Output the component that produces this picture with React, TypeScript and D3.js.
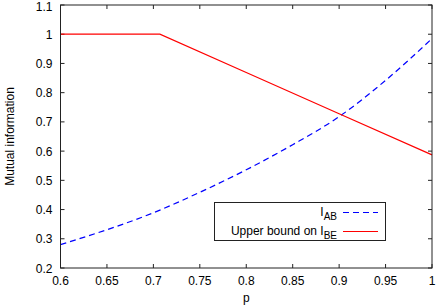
import React, { useEffect, useRef } from 'react';
import * as d3 from 'd3';

// I_AB (blue dashed)
const pAB = [0.6, 0.65, 0.7, 0.75, 0.8, 0.85, 0.9, 0.95, 1.0];
const iAB = [0.28, 0.331, 0.389, 0.459, 0.536, 0.622, 0.718, 0.842, 0.985];

// upper bound on I_BE (red solid)
const pBE = [0.6, 0.707, 0.8, 0.9, 1.0];
const iBE = [1.0, 1.0, 0.869, 0.728, 0.587];

const xTicks = [0.6, 0.65, 0.7, 0.75, 0.8, 0.85, 0.9, 0.95, 1];
const yTicks = [0.2, 0.3, 0.4, 0.5, 0.6, 0.7, 0.8, 0.9, 1, 1.1];

export default function App() {
  const svgRef = useRef<SVGSVGElement>(null);

  useEffect(() => {
    const width = 436;
    const height = 308;
    const margin = { top: 5, right: 4, bottom: 40, left: 60.5 };
    const font = '"Liberation Sans", Arial, Helvetica, sans-serif';

    const svg = d3.select(svgRef.current);
    svg.selectAll('*').remove();
    svg.attr('width', width).attr('height', height);

    const x = d3.scaleLinear().domain([0.6, 1]).range([margin.left, width - margin.right]);
    const y = d3.scaleLinear().domain([0.2, 1.1]).range([height - margin.bottom, margin.top]);

    const x0 = x(0.6), x1 = x(1), y0 = y(0.2), y1 = y(1.1);
    const tick = 4;

    // ticks, inward on all four sides
    const g = svg.append('g').attr('stroke', '#222').attr('stroke-width', 1);
    xTicks.forEach(t => {
      g.append('line').attr('x1', x(t)).attr('x2', x(t)).attr('y1', y0).attr('y2', y0 - tick);
      g.append('line').attr('x1', x(t)).attr('x2', x(t)).attr('y1', y1).attr('y2', y1 + tick);
    });
    yTicks.forEach(t => {
      g.append('line').attr('x1', x0).attr('x2', x0 + tick).attr('y1', y(t)).attr('y2', y(t));
      g.append('line').attr('x1', x1).attr('x2', x1 - tick).attr('y1', y(t)).attr('y2', y(t));
    });

    svg.selectAll('text.xt')
      .data(xTicks)
      .enter()
      .append('text')
      .attr('class', 'xt')
      .attr('x', d => x(d))
      .attr('y', y0 + 17)
      .attr('text-anchor', 'middle')
      .attr('font-family', font)
      .attr('font-size', '12px')
      .text(d => String(d));

    svg.selectAll('text.yt')
      .data(yTicks)
      .enter()
      .append('text')
      .attr('class', 'yt')
      .attr('x', x0 - 8)
      .attr('y', d => Math.max(y(d), 6))
      .attr('dy', '0.38em')
      .attr('text-anchor', 'end')
      .attr('font-family', font)
      .attr('font-size', '12px')
      .text(d => String(d));

    // axis titles
    svg.append('text')
      .attr('x', (x0 + x1) / 2)
      .attr('y', 302)
      .attr('text-anchor', 'middle')
      .attr('font-family', font)
      .attr('font-size', '12px')
      .text('p');

    svg.append('text')
      .attr('transform', `translate(14,${(y0 + y1) / 2}) rotate(-90)`)
      .attr('text-anchor', 'middle')
      .attr('font-family', font)
      .attr('font-size', '12px')
      .text('Mutual information');

    // curves
    const lineAB = d3.line<number>()
      .x((_, i) => x(pAB[i]))
      .y(d => y(d))
      .curve(d3.curveMonotoneX);
    const lineBE = d3.line<number>()
      .x((_, i) => x(pBE[i]))
      .y(d => y(d));

    svg.append('path')
      .attr('d', lineAB(iAB))
      .attr('fill', 'none')
      .attr('stroke', '#0000ff')
      .attr('stroke-width', 1.2)
      .attr('stroke-dasharray', '6,4');

    svg.append('path')
      .attr('d', lineBE(iBE))
      .attr('fill', 'none')
      .attr('stroke', '#ff0000')
      .attr('stroke-width', 1.2);

    // frame
    svg.append('rect')
      .attr('x', x0).attr('y', y1)
      .attr('width', x1 - x0).attr('height', y0 - y1)
      .attr('fill', 'none')
      .attr('stroke', '#222')
      .attr('stroke-width', 1);

    // legend
    const lg = svg.append('g');
    lg.append('rect')
      .attr('x', 214.5).attr('y', 202.5)
      .attr('width', 171).attr('height', 38)
      .attr('fill', 'white')
      .attr('stroke', '#222')
      .attr('stroke-width', 1);

    const entries = [
      { main: 'I', sub: 'AB', color: '#0000ff', dash: '6,4', yy: 212.5 },
      { main: 'Upper bound on I', sub: 'BE', color: '#ff0000', dash: null, yy: 231.5 },
    ];
    entries.forEach(e => {
      const t = lg.append('text')
        .attr('x', 337)
        .attr('y', e.yy + 3)
        .attr('text-anchor', 'end')
        .attr('font-family', font)
        .attr('font-size', '12px');
      t.append('tspan').text(e.main);
      t.append('tspan').attr('dy', 4).attr('font-size', '10px').text(e.sub);
      lg.append('line')
        .attr('x1', 343).attr('x2', 378)
        .attr('y1', e.yy).attr('y2', e.yy)
        .attr('stroke', e.color)
        .attr('stroke-width', 1.2)
        .attr('stroke-dasharray', e.dash);
    });
  }, []);

  return <svg ref={svgRef} style={{ position: 'absolute', left: 0, top: 0 }}></svg>;
}
